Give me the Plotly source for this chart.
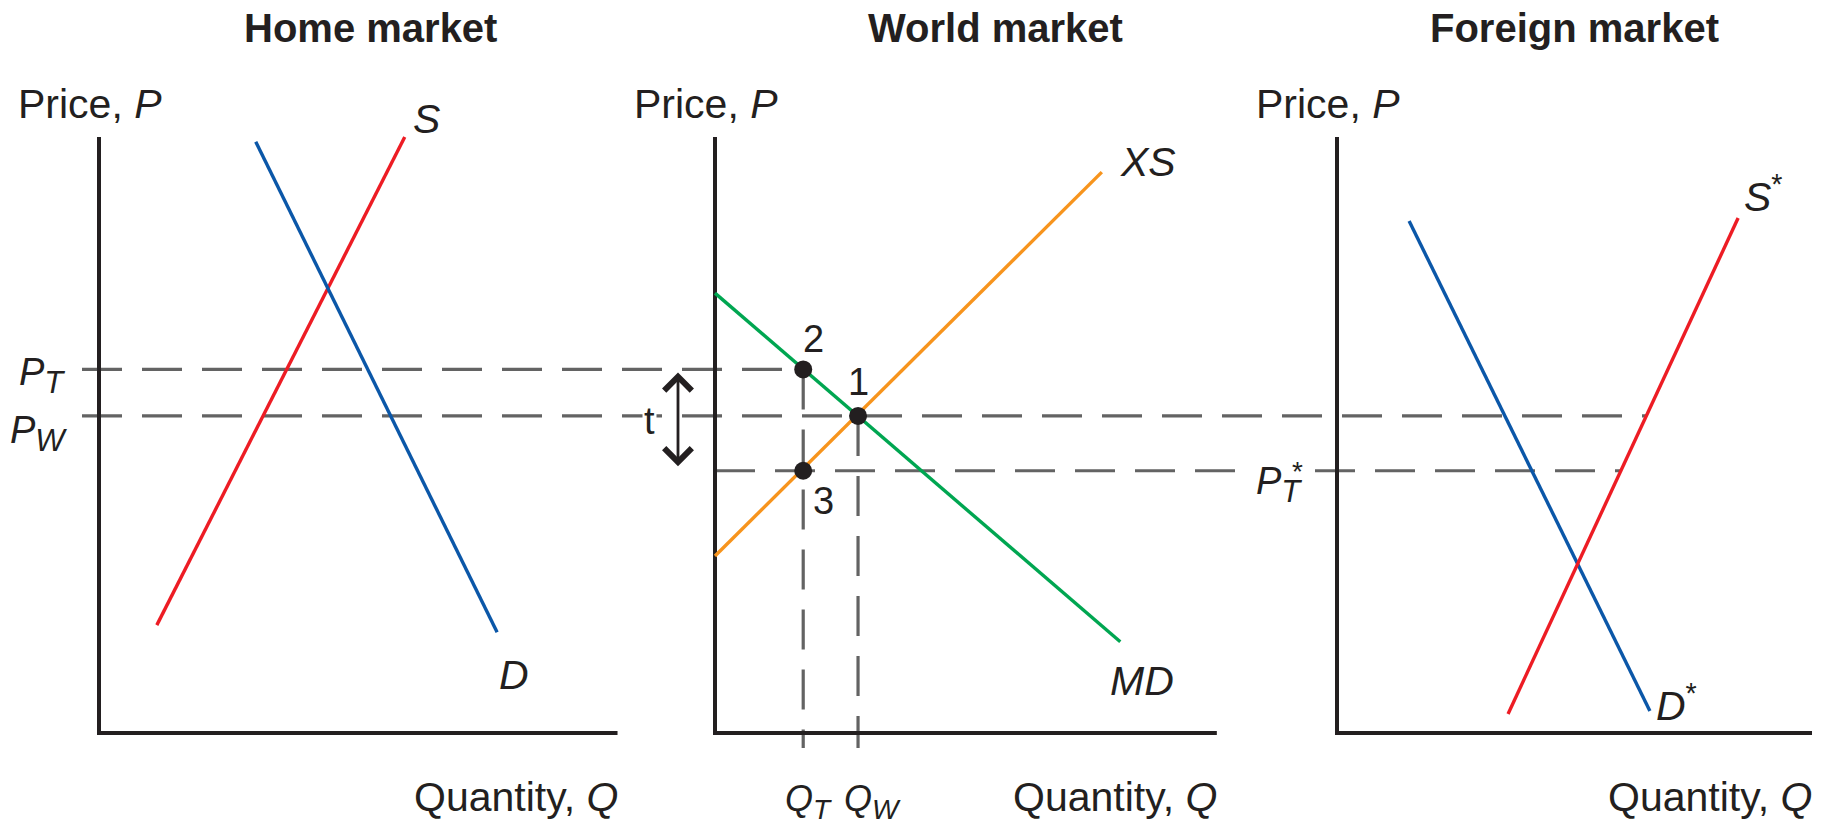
import numpy as np
import plotly.graph_objects as go

# price levels
P_T = 6.1
P_W = 5.32
P_T_STAR = 4.4

# home market (quantity, price)
home_S_q = [0.97, 5.13]
home_S_p = [1.81, 10.0]
home_D_q = [2.63, 6.68]
home_D_p = [9.92, 1.69]

# world market
world_MD_q = [0.0, 6.8]
world_MD_p = [7.38, 1.53]
world_XS_q = [0.0, 6.49]
world_XS_p = [2.97, 9.41]
Q_T = 1.48
Q_W = 2.4
point_labels = ["2", "1", "3"]

# foreign market
foreign_D_q = [1.21, 5.25]
foreign_D_p = [8.59, 0.37]
foreign_S_q = [2.87, 6.73]
foreign_S_p = [0.32, 8.64]

titles = ["Home market", "World market", "Foreign market"]

# layout in axis units (one unit = 59.6 px)
U = 59.6
W, H = 1825, 829
ORIGIN_PX = (99, 733)
X0 = [0.0, (715 - 99) / U, (1337 - 99) / U]     # panel origins
X_LEN = [8.7, 8.42, 7.97]
Y_TOP = 10.0
TICK = 17 / U
FONT = "Liberation Sans, Arial, sans-serif"
INK = "#231f20"
GRAY = "#636363"
RED = "#ed1c24"
BLUE = "#0b57a8"
GREEN = "#00a651"
ORANGE = "#f7941d"
DASH = "40px,20px"

fig = go.Figure()


def line(x, y, color, width=3.4, dash=None):
    fig.add_trace(go.Scatter(x=x, y=y, mode="lines", hoverinfo="skip",
                             line=dict(color=color, width=width, dash=dash)))


hx, wx, fx = X0

# dashed guide lines
s_star_pw = np.interp(P_W, foreign_S_p, foreign_S_q)
s_star_pt = np.interp(P_T_STAR, foreign_S_p, foreign_S_q)
line([hx - TICK, wx + Q_T], [P_T, P_T], GRAY, 3.2, DASH)
line([hx - TICK, fx + s_star_pw], [P_W, P_W], GRAY, 3.2, DASH)
line([wx, fx + s_star_pt], [P_T_STAR, P_T_STAR], GRAY, 3.2, DASH)
line([wx + Q_T, wx + Q_T], [P_T, -15 / U], GRAY, 3.2, DASH)
line([wx + Q_W, wx + Q_W], [P_W, -15 / U], GRAY, 3.2, DASH)

# axes
for x0, xl in zip(X0, X_LEN):
    line([x0, x0, x0 + xl], [Y_TOP, 0, 0], INK, 4)

# curves
line([hx + q for q in home_S_q], home_S_p, RED)
line([hx + q for q in home_D_q], home_D_p, BLUE)
line([wx + q for q in world_MD_q], world_MD_p, GREEN)
line([wx + q for q in world_XS_q], world_XS_p, ORANGE)
line([fx + q for q in foreign_D_q], foreign_D_p, BLUE)
line([fx + q for q in foreign_S_q], foreign_S_p, RED)

# equilibrium points
pts_q = [Q_T, Q_W, Q_T]
pts_p = [P_T, P_W, P_T_STAR]
fig.add_trace(go.Scatter(x=[wx + q for q in pts_q], y=pts_p, mode="markers",
                         hoverinfo="skip", marker=dict(color=INK, size=18)))

ann = []


def text(t, x, y, size=41, xs=0, ys=0, xa="center", ya="middle", **kw):
    ann.append(dict(text=t, x=x, y=y, xref="x", yref="y", showarrow=False,
                    xshift=xs, yshift=ys, xanchor=xa, yanchor=ya,
                    font=dict(family=FONT, size=size, color=INK), **kw))


# titles and axis labels
for x0, xl, t, tx in zip(X0, X_LEN, titles, [4.56, 4.7, 3.98]):
    ann.append(dict(text="<b>%s</b>" % t, x=x0 + tx, y=1 - 28 / H, xref="x",
                    yref="paper", showarrow=False, xanchor="center",
                    yanchor="middle", font=dict(family=FONT, size=40, color=INK)))
    text("Price, <i>P</i>", x0, Y_TOP, xs=-9, ys=33)
    text("Quantity, <i>Q</i>", x0 + xl, 0, xs=2, ys=-64, xa="right")

SUB = '<sub><span style="font-size:%dpx">%s</span></sub>'
text("<i>P" + SUB % (31, "T") + "</i>", hx, P_T, size=38, xs=-32, ys=-6, xa="right")
text("<i>P" + SUB % (31, "W") + "</i>", hx, P_W, size=38, xs=-30, ys=-18, xa="right")
text("<i>P" + SUB % (31, "T") + "</i>", fx, P_T_STAR, size=38, xs=-33, ys=-14,
     xa="right", bgcolor="white")
text("*", fx, P_T_STAR, size=28, xs=-40, ys=-1)
text("<i>Q" + SUB % (28, "T") + "</i>", wx + Q_T, 0, size=36, xs=-20, ys=-68, xa="left")
text("<i>Q" + SUB % (28, "W") + "</i>", wx + Q_W, 0, size=36, xs=-16, ys=-68, xa="left")

# curve labels
text("<i>S</i>", hx + home_S_q[1], home_S_p[1], xs=22, ys=18)
text("<i>D</i>", hx + home_D_q[1], home_D_p[1], xs=17, ys=-43)
text("<i>XS</i>", wx + world_XS_q[1], world_XS_p[1], xs=46, ys=10)
text("<i>MD</i>", wx + world_MD_q[1], world_MD_p[1], xs=22, ys=-39)
text("<i>S</i><sup>*</sup>", fx + foreign_S_q[1], foreign_S_p[1], xs=4, ys=24, xa="left")
text("<i>D</i><sup>*</sup>", fx + foreign_D_q[1], foreign_D_p[1], xs=4, ys=8, xa="left")

# point numbers
for (xs, ys), lab, q, p in zip([(10, 30), (0, 34), (20, -30)], point_labels, pts_q, pts_p):
    text(lab, wx + q, p, size=38, xs=xs, ys=ys)

# tariff arrow
arrow_x = wx - 37 / U
ann.append(dict(text="", x=arrow_x, y=P_T, ax=arrow_x, ay=P_T_STAR,
                xref="x", yref="y", axref="x", ayref="y", showarrow=True,
                arrowhead=4, startarrowhead=4, arrowside="end+start",
                arrowwidth=2.8, arrowsize=1.9, arrowcolor=INK,
                standoff=3, startstandoff=3))
text("t", arrow_x, P_W, size=38, xs=-29, ys=-5, bgcolor="white")

fig.update_layout(
    width=W, height=H, margin=dict(l=0, r=0, t=0, b=0),
    paper_bgcolor="white", plot_bgcolor="white",
    showlegend=False, hovermode=False, annotations=ann,
    xaxis=dict(range=[-ORIGIN_PX[0] / U, (W - ORIGIN_PX[0]) / U], visible=False),
    yaxis=dict(range=[-(H - ORIGIN_PX[1]) / U, ORIGIN_PX[1] / U], visible=False),
)

fig.write_html("out.html", config={"displayModeBar": False},
               post_script="document.body.style.margin = '0';")
